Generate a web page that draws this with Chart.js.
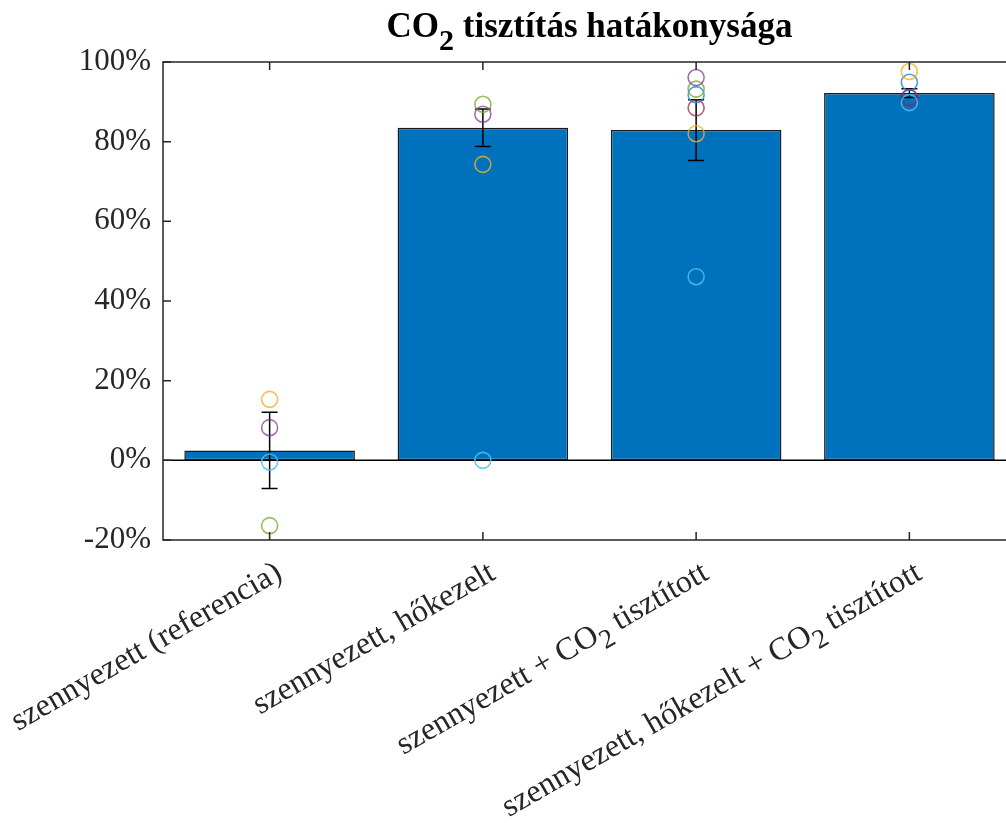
<!DOCTYPE html>
<html>
<head>
<meta charset="utf-8">
<script src="https://cdn.jsdelivr.net/npm/chart.js@4/dist/chart.umd.min.js"></script>
<style>
  html, body { margin: 0; padding: 0; background: #fff; overflow: hidden; }
  #wrap { position: relative; width: 1006px; height: 823px; overflow: hidden; }
  #title {
    position: absolute; top: 9px; left: 163px; width: 853px;
    text-align: center; font: bold 35px "Liberation Serif", "Times New Roman", serif;
    line-height: 34px; color: #000;
  }
  #title sub { font-size: 30px; vertical-align: -13px; line-height: 0; }
  canvas { position: absolute; left: 0; top: 0; }
</style>
</head>
<body>
<div id="wrap">
  <canvas id="chart" width="1040" height="823"></canvas>
  <div id="title">CO<sub>2</sub> tisztítás hatákonysága</div>
</div>
<script>
// Category labels ("_2" marks a subscript, as in the MATLAB TeX labels)
const categories = [
  "szennyezett (referencia)",
  "szennyezett, hőkezelt",
  "szennyezett + CO_2 tisztított",
  "szennyezett, hőkezelt + CO_2 tisztított"
];

// Mean efficiency per category (%) and symmetric error
const means  = [2.5, 83.5, 82.9, 92.2];
const errors = [9.6, 4.7, 7.6, 1.1];

// Individual samples, one array per sample colour
const sampleLightBlue = [-0.4, 0.0, 46.1, 89.8];
const sampleYellow    = [15.3, 74.3, 82.0, 97.6];
const samplePurple    = [8.2, 86.9, 96.1, 91.1];
const sampleGreen     = [-16.4, 89.4, 93.2, null];
const sampleBlue      = [null, null, 91.8, 94.9];
const sampleDarkRed   = [null, null, 88.5, 91.0];

// Y axis ticks
const yTicks = [-20, 0, 20, 40, 60, 80, 100];

const AXIS_COLOR = "#262626";
const FONT = '"Liberation Serif", "Times New Roman", serif';

// Draw a label with "_x" subscripts, right-aligned at (0,0) on the baseline
function drawTexRight(ctx, text, size) {
  const parts = text.split(/_(.)/);
  let segs = parts.map(function (t, i) { return { t: t, sub: i % 2 === 1 }; });
  let total = 0;
  segs.forEach(function (s) {
    ctx.font = (s.sub ? Math.round(size * 0.85) : size) + "px " + FONT;
    s.w = ctx.measureText(s.t).width;
    total += s.w;
  });
  let x = -total;
  segs.forEach(function (s) {
    ctx.font = (s.sub ? Math.round(size * 0.85) : size) + "px " + FONT;
    ctx.fillText(s.t, x, s.sub ? size * 0.3 : 0);
    x += s.w;
  });
}

// Error bars: drawn right after the bar dataset, under the sample circles
const errorBarPlugin = {
  id: "errorBars",
  afterDatasetDraw: function (chart, args) {
    if (args.index !== 0) return;
    const ctx = chart.ctx, xs = chart.scales.x, ys = chart.scales.y;
    const a = chart.chartArea;
    ctx.save();
    ctx.beginPath();
    ctx.rect(a.left, a.top, a.right - a.left, a.bottom - a.top);
    ctx.clip();
    ctx.strokeStyle = "#000";
    ctx.lineWidth = 1.5;
    means.forEach(function (m, i) {
      const x = xs.getPixelForValue(i);
      const yHi = ys.getPixelForValue(m + errors[i]);
      const yLo = ys.getPixelForValue(m - errors[i]);
      ctx.beginPath();
      ctx.moveTo(x, yHi); ctx.lineTo(x, yLo);
      ctx.moveTo(x - 8, yHi); ctx.lineTo(x + 8, yHi);
      ctx.moveTo(x - 8, yLo); ctx.lineTo(x + 8, yLo);
      ctx.stroke();
    });
    ctx.restore();
  }
};

// Zero baseline, axis box, inner ticks and rotated category labels
const axesPlugin = {
  id: "matlabAxes",
  beforeDatasetsDraw: function (chart) {
    const ctx = chart.ctx, a = chart.chartArea, ys = chart.scales.y;
    const y0 = ys.getPixelForValue(0);
    ctx.save();
    ctx.strokeStyle = "#000";
    ctx.lineWidth = 1.5;
    ctx.beginPath();
    ctx.moveTo(a.left, y0); ctx.lineTo(a.right, y0);
    ctx.stroke();
    ctx.restore();
  },
  afterDraw: function (chart) {
    const ctx = chart.ctx, a = chart.chartArea;
    const xs = chart.scales.x, ys = chart.scales.y;
    ctx.save();
    ctx.strokeStyle = AXIS_COLOR;
    ctx.lineWidth = 1.5;
    ctx.strokeRect(a.left, a.top, a.right - a.left, a.bottom - a.top);
    ctx.beginPath();
    yTicks.forEach(function (v) {
      const y = ys.getPixelForValue(v);
      ctx.moveTo(a.left, y); ctx.lineTo(a.left + 8, y);
      ctx.moveTo(a.right, y); ctx.lineTo(a.right - 8, y);
    });
    categories.forEach(function (c, i) {
      const x = xs.getPixelForValue(i);
      ctx.moveTo(x, a.bottom); ctx.lineTo(x, a.bottom - 8);
      ctx.moveTo(x, a.top); ctx.lineTo(x, a.top + 8);
    });
    ctx.stroke();

    ctx.fillStyle = AXIS_COLOR;
    ctx.textAlign = "left";
    ctx.textBaseline = "alphabetic";
    categories.forEach(function (c, i) {
      const x = xs.getPixelForValue(i);
      ctx.save();
      ctx.translate(x + 14, a.bottom + 38);
      ctx.rotate(-Math.PI / 6);
      drawTexRight(ctx, c, 32);
      ctx.restore();
    });
    ctx.restore();
  }
};

function sampleSet(values, color) {
  return {
    type: "line",
    order: 0,
    data: values,
    showLine: false,
    pointStyle: "circle",
    pointRadius: 8,
    pointHoverRadius: 8,
    pointBorderWidth: 1.6,
    pointBackgroundColor: "rgba(0,0,0,0)",
    pointBorderColor: color,
    borderColor: color,
    backgroundColor: "rgba(0,0,0,0)"
  };
}

new Chart(document.getElementById("chart"), {
  type: "bar",
  data: {
    labels: categories,
    datasets: [
      {
        order: 10,
        data: means,
        backgroundColor: "#0072BD",
        borderColor: "#1a1a1a",
        borderWidth: 1.5,
        borderSkipped: false,
        barPercentage: 0.8,
        categoryPercentage: 1.0
      },
      sampleSet(sampleLightBlue, "rgba(77,190,238,0.85)"),
      sampleSet(sampleYellow,    "rgba(237,177,32,0.8)"),
      sampleSet(samplePurple,    "rgba(126,47,142,0.7)"),
      sampleSet(sampleGreen,     "rgba(119,172,48,0.8)"),
      sampleSet(sampleBlue,      "rgba(40,140,210,0.85)"),
      sampleSet(sampleDarkRed,   "rgba(162,20,47,0.7)")
    ]
  },
  options: {
    responsive: false,
    animation: false,
    events: [],
    layout: { padding: { top: 62, bottom: 283, left: 0, right: 24 } },
    plugins: { legend: { display: false }, tooltip: { enabled: false } },
    scales: {
      x: { display: false, offset: true },
      y: {
        min: -20, max: 100,
        border: { display: false },
        grid: { display: false, drawTicks: false },
        afterFit: function (scale) { scale.width = 163; },
        afterBuildTicks: function (scale) {
          scale.ticks = yTicks.map(function (v) { return { value: v }; });
        },
        ticks: {
          padding: 12,
          color: AXIS_COLOR,
          font: { family: FONT, size: 31 },
          callback: function (v) { return v + "%"; }
        }
      }
    }
  },
  plugins: [axesPlugin, errorBarPlugin]
});
</script>
</body>
</html>
